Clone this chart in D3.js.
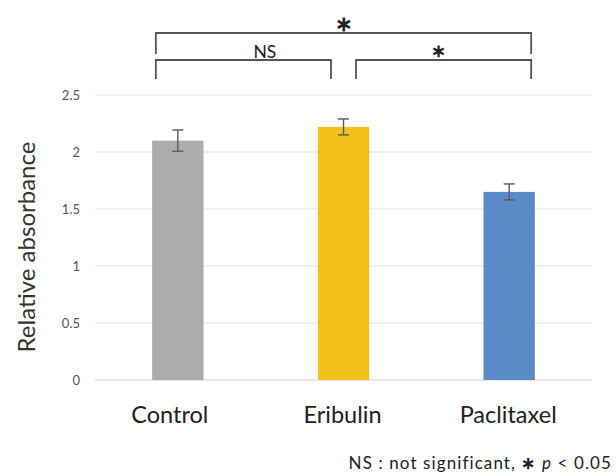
<!DOCTYPE html>
<html>
<head>
<meta charset="utf-8">
<script src="https://cdn.jsdelivr.net/npm/d3@7"></script>
<style>
  body { margin: 0; background: #fff; }
  svg { font-family: Lato, "Open Sans", sans-serif; }
</style>
</head>
<body>
<svg id="chart" width="616" height="473"></svg>
<script>
// data
const groups = ["Control", "Eribulin", "Paclitaxel"];
const means = [2.1, 2.22, 1.65];
const errors = [0.093, 0.07, 0.07];
const barColors = ["#acacac", "#f4c01b", "#5a8bc6"];
const yTicks = [0, 0.5, 1, 1.5, 2, 2.5];
// significance brackets: [from, to, label, level]
const brackets = [
    ["Control", "Paclitaxel", "*", 0],
    ["Control", "Eribulin", "NS", 1],
    ["Eribulin", "Paclitaxel", "*", 1]
];

const svg = d3.select("#chart");
const plot = { left: 95, right: 592, top: 95, bottom: 380 };

const x = d3.scaleBand()
    .domain(groups)
    .range([plot.left, plot.right])
    .paddingInner(0.69)
    .paddingOuter(0.345);

const y = d3.scaleLinear()
    .domain([0, 2.5])
    .range([plot.bottom, plot.top]);

// gridlines
svg.append("g")
    .selectAll("line")
    .data(yTicks)
    .join("line")
    .attr("x1", plot.left)
    .attr("x2", plot.right)
    .attr("y1", d => y(d))
    .attr("y2", d => y(d))
    .attr("stroke", d => d === 0 ? "#d0d0d0" : "#e3e3e3")
    .attr("stroke-width", 1.2);

// y axis tick labels
svg.append("g")
    .selectAll("text")
    .data(yTicks)
    .join("text")
    .attr("x", 80)
    .attr("y", d => y(d))
    .attr("dy", "0.35em")
    .attr("text-anchor", "end")
    .attr("font-size", 13)
    .attr("fill", "#555")
    .text(d => d);

// bars
svg.append("g")
    .selectAll("rect")
    .data(groups)
    .join("rect")
    .attr("x", d => x(d))
    .attr("width", x.bandwidth())
    .attr("y", (d, i) => y(means[i]))
    .attr("height", (d, i) => y(0) - y(means[i]))
    .attr("fill", (d, i) => barColors[i]);

// error bars
const eb = svg.append("g")
    .attr("stroke", "#5a5a5a")
    .attr("stroke-width", 1.4);
groups.forEach((g, i) => {
    const cx = x(g) + x.bandwidth() / 2;
    const top = y(means[i] + errors[i]);
    const bot = y(means[i] - errors[i]);
    eb.append("line").attr("x1", cx).attr("x2", cx).attr("y1", top).attr("y2", bot);
    eb.append("line").attr("x1", cx - 5.5).attr("x2", cx + 5.5).attr("y1", top).attr("y2", top);
    eb.append("line").attr("x1", cx - 5.5).attr("x2", cx + 5.5).attr("y1", bot).attr("y2", bot);
});

// category labels
svg.append("g")
    .selectAll("text")
    .data(groups)
    .join("text")
    .attr("x", d => x(d) + x.bandwidth() / 2 - (d === "Control" ? 8 : 1))
    .attr("y", 423)
    .attr("text-anchor", "middle")
    .attr("font-size", 23.5)
    .attr("fill", "#222")
    .text(d => d);

// y axis title
svg.append("text")
    .attr("transform", "translate(35,247) rotate(-90)")
    .attr("text-anchor", "middle")
    .attr("font-size", 24)
    .attr("fill", "#333")
    .text("Relative absorbance");

// significance brackets
const levelY = [33, 60];
const levelDrop = [21, 19];
const bg = svg.append("g");
brackets.forEach(([a, b, label, lvl]) => {
    const gap = lvl === 1 ? 12.5 : 0;
    let x1 = x(a) + x.bandwidth() / 2 - 22;
    let x2 = x(b) + x.bandwidth() / 2 + 22;
    if (lvl === 1) {
        x1 = a === "Control" ? x(a) + x.bandwidth() / 2 - 22 : x(a) + x.bandwidth() / 2 + gap;
        x2 = b === "Paclitaxel" ? x(b) + x.bandwidth() / 2 + 22 : x(b) + x.bandwidth() / 2 - gap;
    }
    const yy = levelY[lvl];
    bg.append("path")
        .attr("d", `M${x1},${yy + levelDrop[lvl]}V${yy}H${x2}V${yy + levelDrop[lvl]}`)
        .attr("fill", "none")
        .attr("stroke", "#555")
        .attr("stroke-width", 1.8);
    const isStar = label === "*";
    let tx = (x1 + x2) / 2, ty = yy - 2.5, fs = 17.5;
    if (isStar && lvl === 0) { ty = yy - 2.5; fs = 21; }
    if (isStar && lvl === 1) { tx -= 5; ty = yy - 3; fs = 18; }
    if (!isStar) { tx += 21.5; }
    bg.append("text")
        .attr("x", tx)
        .attr("y", ty)
        .attr("text-anchor", "middle")
        .attr("font-size", fs)
        .attr("font-weight", isStar ? "bold" : "normal")
        .attr("fill", "#222")
        .text(isStar ? "\u2217" : label);
});

// footnote
const note = svg.append("text")
    .attr("x", 612)
    .attr("y", 469)
    .attr("text-anchor", "end")
    .attr("font-size", 17)
    .attr("letter-spacing", 1.1)
    .attr("fill", "#222");
note.append("tspan").text("NS : not significant,  ");
note.append("tspan").attr("font-weight", "bold").text("\u2217");
note.append("tspan").text("   ");
note.append("tspan").attr("font-style", "italic").text("p");
note.append("tspan").text(" < 0.05");
</script>
</body>
</html>
